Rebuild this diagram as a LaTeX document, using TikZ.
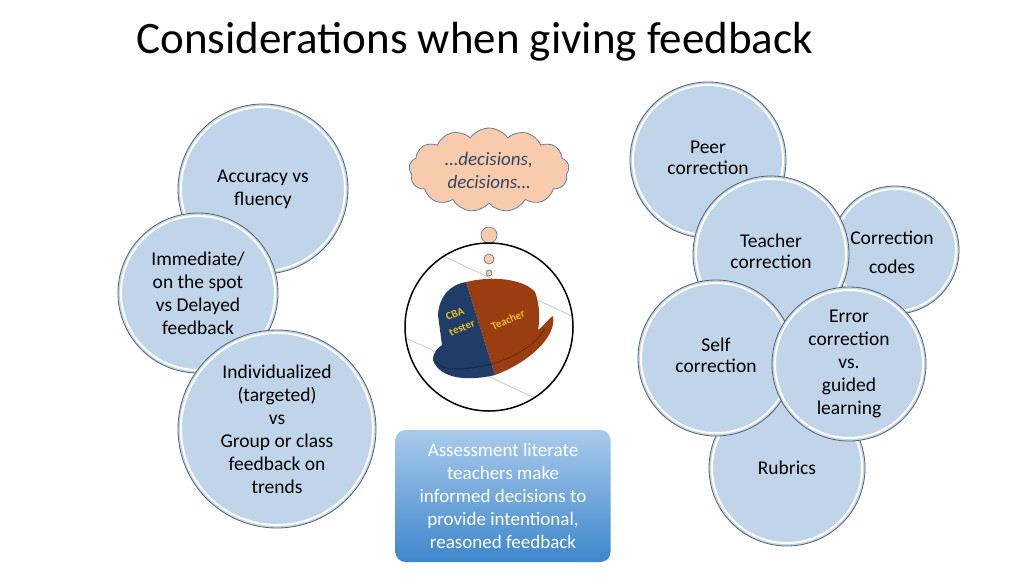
\documentclass[tikz,border=0pt]{standalone}
\usepackage{fontspec}
\setmainfont{Carlito}
\usetikzlibrary{shapes.symbols}
\definecolor{cfill}{HTML}{C0D5EA}
\definecolor{cline}{HTML}{5A6470}
\definecolor{cloudf}{HTML}{F8CBAD}
\definecolor{cloudl}{HTML}{5B7FA8}
\definecolor{hatblue}{HTML}{1F3D66}
\definecolor{hatbrown}{HTML}{9A3E12}
\definecolor{boxtop}{HTML}{A9CBEB}
\definecolor{boxbot}{HTML}{3D86CC}
\begin{document}
\begin{tikzpicture}[x=1pt,y=-1pt,
  txt/.style={align=center,font=\fontsize{19.5}{23}\selectfont},
  hattxt/.style={font=\bfseries\fontsize{11}{12}\selectfont,text={rgb,255:red,235;green,190;blue,40},inner sep=0pt}]
\useasboundingbox (0,0) rectangle (1024,576);
\fill[white] (0,0) rectangle (1024,576);
\newcommand{\bubble}[5]{%
  \fill[cfill] (#2,#3) circle (#4);
  \draw[white,line width=2pt] (#2,#3) circle (#4-3);
  \draw[cline,line width=0.8pt] (#2,#3) circle (#4);
  \node[txt] (#1) at (#2,#3) {#5};}
\node[anchor=west,font=\fontsize{45}{50}\selectfont,text=black] (title) at (133,42) {Considerations when giving feedback};
% left
\bubble{acc}{263}{189}{85}{Accuracy vs\\fluency}
\bubble{imm}{198}{293}{80}{Immediate/\\on the spot\\vs Delayed\\feedback}
\bubble{ind}{277}{429}{99}{Individualized\\(targeted)\\vs\\Group or class\\feedback on\\trends}
% right
\bubble{rub}{787}{468}{78}{Rubrics}
\bubble{peer}{708}{160}{78}{}
\node[align=center,font=\fontsize{19.5}{21}\selectfont] (peert) at (708,158) {Peer\\correction};
\bubble{codes}{895}{250}{64}{}
\node[align=center,font=\fontsize{19.5}{29}\selectfont] (codest) at (892,252) {Correction\\codes};
\bubble{teach}{771}{254}{78}{}
\node[align=center,font=\fontsize{19.5}{21}\selectfont] (teacht) at (771,251) {Teacher\\correction};
\bubble{self}{716}{358}{78}{}
\node[align=center,font=\fontsize{19.5}{21}\selectfont] (selft) at (716,355) {Self\\correction};
\bubble{err}{849}{364}{77}{Error\\correction\\vs.\\guided\\learning}
% cloud
\node[cloud,cloud puffs=13,cloud puff arc=110,aspect=2,fill=cloudf,draw=cloudl,line width=0.8pt,minimum width=160pt,minimum height=84pt,align=center,font=\fontsize{19}{23}\selectfont\itshape,text={rgb,255:red,50;green,70;blue,100},inner sep=0pt] (cloud) at (489,170) {\ldots decisions,\\decisions\ldots};
\fill[cloudf,draw=cloudl,line width=0.7pt] (489,235) circle (8);
\fill[cloudf,draw=cloudl,line width=0.7pt] (489,259) circle (5);
\fill[cloudf,draw=cloudl,line width=0.7pt] (489,273) circle (3);
% hat circle
\draw[black,line width=1.5pt] (489,327) circle (84);
\begin{scope}
\clip (489,327) circle (83);
\draw[gray!60,line width=0.5pt,rotate around={-25:(489,327)}] (400,282) rectangle (578,372);
\end{scope}
% hat
\fill[hatbrown] (466,282) .. controls (495,275) and (525,280) .. (535,292) .. controls (540,305) and (540,320) .. (538,330) .. controls (546,324) and (551,316) .. (553,316) .. controls (557,336) and (530,362) .. (495,375) -- cycle;
\fill[hatblue] (433,360) .. controls (440,380) and (470,381) .. (495,375) -- (466,282) .. controls (452,284) and (439,295) .. (438,315) -- (442,345) .. controls (438,348) and (433,352) .. (433,360) -- cycle;
\draw[hatblue!70!black,line width=1pt] (436,362) .. controls (444,372) and (466,370) .. (492,364);
\draw[hatbrown!70!black,line width=1pt] (492,364) .. controls (515,357) and (536,345) .. (545,328);
\node[hattxt,rotate=22] (cba) at (455,314) {CBA};
\node[hattxt,rotate=22] (tst) at (462,328) {tester};
\node[hattxt,rotate=24] (tch) at (508,320) {Teacher};
% box
\node[rounded corners=10pt,top color=boxtop,bottom color=boxbot,minimum width=215pt,minimum height=132pt,align=center,text=white,font=\fontsize{19}{23}\selectfont,inner sep=0pt] (box) at (503,496) {Assessment literate\\teachers make\\informed decisions to\\provide intentional,\\reasoned feedback};
\end{tikzpicture}
\end{document}
